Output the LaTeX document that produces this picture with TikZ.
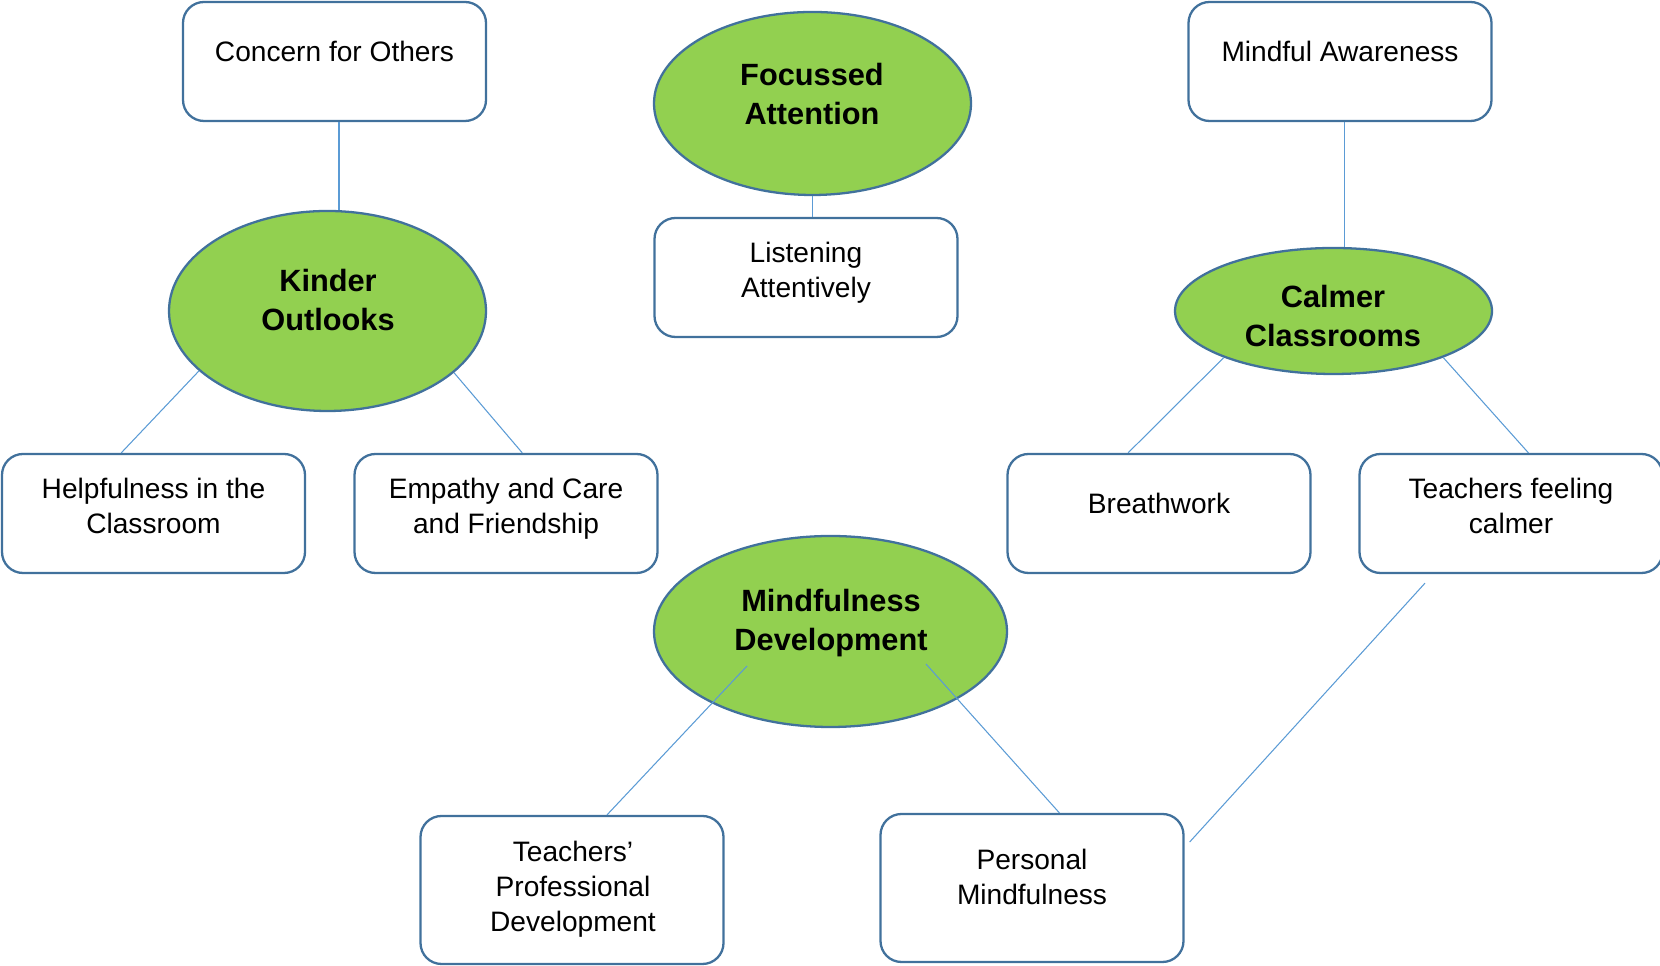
\documentclass[tikz,border=0pt]{standalone}
\usepackage{fontspec}
\setmainfont{Liberation Sans}
\usepackage{tikz}
\usetikzlibrary{shapes.geometric}
\definecolor{BoxLine}{RGB}{65,113,156}
\definecolor{BubbleGreen}{RGB}{146,208,80}
\definecolor{LinkBlue}{RGB}{91,155,213}

\begin{document}
\begin{tikzpicture}[
  font=\fontsize{16}{19.9}\selectfont,
  card/.style={draw=BoxLine, line width=1.3pt, rounded corners=0.42cm, fill=white,
    minimum width=6.06cm, minimum height=2.38cm, inner sep=0pt},
  tallcard/.style={card, minimum height=2.96cm},
  bubble/.style={ellipse, draw=BoxLine, line width=1.3pt, fill=BubbleGreen,
    minimum width=6.34cm, inner sep=0pt},
  cardtext/.style={align=center, inner sep=0pt},
  bubbletext/.style={align=center, inner sep=0pt, font=\fontsize{17.5}{22.2}\selectfont\bfseries},
  link/.style={draw=LinkBlue, line width=0.6pt},
]
\useasboundingbox (0,0) rectangle (33.2,19.32);

% Top row
\node[card] (concern) at (6.69,18.09) {};
\node[cardtext] (concern-txt) at (6.69,18.30) {Concern for Others};
\node[bubble, minimum height=3.66cm] (focus) at (16.25,17.25) {};
\node[bubbletext] (focus-txt) at (16.24,17.44) {Focussed\\Attention};
\node[card] (mindful) at (26.80,18.09) {};
\node[cardtext] (mindful-txt) at (26.80,18.30) {Mindful Awareness};

% Middle row
\node[bubble, minimum height=4.00cm] (kinder) at (6.55,13.10) {};
\node[bubbletext] (kinder-txt) at (6.56,13.31) {Kinder\\Outlooks};
\node[card] (listen) at (16.12,13.77) {};
\node[cardtext] (listen-txt) at (16.12,13.86) {Listening\\Attentively};
\node[bubble, minimum height=2.52cm] (calmer) at (26.67,13.10) {};
\node[bubbletext] (calmer-txt) at (26.66,12.99) {Calmer\\Classrooms};

% Row of outcomes
\node[card] (helpful) at (3.07,9.05) {};
\node[cardtext] (helpful-txt) at (3.07,9.21) {Helpfulness in the\\Classroom};
\node[card] (empathy) at (10.12,9.05) {};
\node[cardtext] (empathy-txt) at (10.12,9.15) {Empathy and Care\\and Friendship};
\node[card] (breath) at (23.18,9.05) {};
\node[cardtext] (breath-txt) at (23.18,9.26) {Breathwork};
\node[card] (tcalm) at (30.22,9.05) {};
\node[cardtext] (tcalm-txt) at (30.22,9.21) {Teachers feeling\\calmer};

% Bottom: mindfulness development
\node[bubble, minimum width=7.06cm, minimum height=3.82cm] (mindev) at (16.61,6.69) {};
\node[bubbletext] (mindev-txt) at (16.62,6.86) {Mindfulness\\Development};
\node[tallcard] (tprof) at (11.44,1.52) {};
\node[cardtext] (tprof-txt) at (11.46,1.54) {Teachers’\\Professional\\Development};
\node[tallcard] (personal) at (20.64,1.56) {};
\node[cardtext] (personal-txt) at (20.64,1.78) {Personal\\Mindfulness};

% Connectors
\draw[link] ([xshift=0.09cm]concern.south) -- ([xshift=0.09cm]concern.south |- kinder.north);
\draw[link] (focus.south) -- (focus.south |- listen.north);
\draw[link] ([xshift=0.09cm]mindful.south) -- ([xshift=0.09cm]mindful.south |- calmer.north);
\draw[link] (kinder.205) -- (helpful.118);
\draw[link] (kinder.334) -- (empathy.75);
\draw[link] (calmer.203) -- (breath.117);
\draw[link] (calmer.337) -- (tcalm.74);
\draw[link] ([shift={(-1.67,-0.69)}]mindev.center) -- (tprof.65);
\draw[link] ([shift={(1.91,-0.65)}]mindev.center) -- (personal.70);
\draw[link] ([shift={(-1.72,-0.18)}]tcalm.south) -- ([shift={(0.10,0.92)}]personal.east);

\end{tikzpicture}
\end{document}
